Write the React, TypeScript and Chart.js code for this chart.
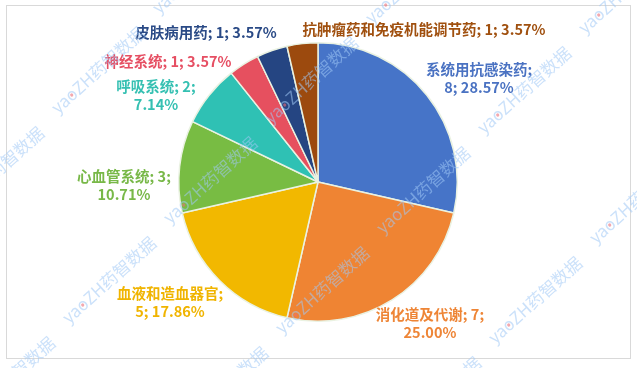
import React, { useEffect, useRef } from "react";
import { Chart, registerables } from "chart.js";

Chart.register(...registerables);

// ---- data ----
const categories = [
  "系统用抗感染药",
  "消化道及代谢",
  "血液和造血器官",
  "心血管系统",
  "呼吸系统",
  "神经系统",
  "皮肤病用药",
  "抗肿瘤药和免疫机能调节药",
];
const counts = [8, 7, 5, 3, 2, 1, 1, 1];

// ---- styling / layout ----
const sliceColors = ["#4674C8", "#EF8433", "#F2B800", "#78BC43", "#2FC1B4", "#E6505F", "#254582", "#9C4A0E"];
const labelColors = ["#4A72C2", "#EE8536", "#F0B400", "#78B848", "#35C0B2", "#E64F63", "#2A4A86", "#A0500F"];
// where each label's line break goes: after name, after value, or none
const labelBreaks = ["name", "value", "name", "value", "value", "none", "none", "none"];
// label centre offsets from pie centre (px)
const labelOffsets: [number, number][] = [
  [161, -104],
  [112, 141],
  [-148, 120],
  [-194, 3],
  [-162, -87],
  [-150, -121],
  [-112, -150],
  [106, -153],
];

const total = counts.reduce((a, b) => a + b, 0);

function labelLines(i: number): string[] {
  const pct = ((counts[i] / total) * 100).toFixed(2) + "%";
  const name = categories[i] + ";";
  const val = counts[i] + ";";
  const b = labelBreaks[i];
  if (b === "name") return [name, `${counts[i]}; ${pct}`];
  if (b === "value") return [`${name} ${val}`, pct];
  return [`${name} ${val} ${pct}`];
}

const framePlugin = {
  id: "frame",
  beforeDraw(chart: any) {
    const ctx = chart.ctx;
    ctx.save();
    ctx.fillStyle = "#ffffff";
    ctx.fillRect(0, 0, chart.width, chart.height);
    ctx.strokeStyle = "#D9D9D9";
    ctx.lineWidth = 1;
    ctx.strokeRect(6.5, 5.5, 624, 353);
    ctx.restore();
  },
};

const labelPlugin = {
  id: "sliceLabels",
  afterDatasetsDraw(chart: any) {
    const ctx = chart.ctx;
    const meta = chart.getDatasetMeta(0);
    ctx.save();
    ctx.font = 'bold 14.5px "Noto Sans CJK SC", "Noto Sans", sans-serif';
    ctx.textAlign = "center";
    ctx.textBaseline = "middle";
    meta.data.forEach((arc: any, i: number) => {
      const lines = labelLines(i);
      const [dx, dy] = labelOffsets[i];
      const cx = arc.x + dx;
      const cy = arc.y + dy;
      const lh = 18;
      ctx.fillStyle = labelColors[i];
      lines.forEach((ln, k) => {
        ctx.fillText(ln, cx, cy + (k - (lines.length - 1) / 2) * lh);
      });
    });
    ctx.restore();
  },
};

const watermarkPlugin = {
  id: "watermark",
  afterDraw(chart: any) {
    const ctx = chart.ctx;
    ctx.save();
    ctx.font = '17px "Noto Sans CJK SC", "Noto Sans", sans-serif';
    ctx.textAlign = "center";
    ctx.textBaseline = "middle";
    const ox = 98, oy = 70;
    for (let i = -3; i <= 4; i++) {
      for (let j = -4; j <= 4; j++) {
        const x = ox + i * 112 + j * 213;
        const y = oy + i * 110 + j * 10;
        if (x < -80 || x > chart.width + 80 || y < -80 || y > chart.height + 80) continue;
        ctx.save();
        ctx.translate(x, y);
        ctx.rotate((-42 * Math.PI) / 180);
        ctx.fillStyle = "rgba(160,200,245,0.55)";
        const text = "yaoZH药智数据";
        const w = ctx.measureText(text).width;
        ctx.fillText(text, 0, 0);
        const pre = ctx.measureText("ya").width;
        const o = ctx.measureText("o").width;
        ctx.fillStyle = "rgba(235,110,120,0.6)";
        ctx.beginPath();
        ctx.arc(-w / 2 + pre + o / 2, 1, 1.6, 0, Math.PI * 2);
        ctx.fill();
        ctx.restore();
      }
    }
    ctx.restore();
  },
};

export default function App() {
  const ref = useRef<HTMLCanvasElement | null>(null);
  useEffect(() => {
    document.body.style.margin = "0";
    if (!ref.current) return;
    const chart = new Chart(ref.current, {
      type: "pie",
      data: {
        labels: categories,
        datasets: [
          {
            data: counts,
            backgroundColor: sliceColors,
            borderColor: "#EAF2E2",
            borderWidth: 1.5,
          },
        ],
      },
      options: {
        animation: false,
        responsive: false,
        layout: { padding: { top: 42, bottom: 46, left: 100, right: 101 } },
        plugins: {
          legend: { display: false },
          tooltip: { enabled: false },
        },
      },
      plugins: [framePlugin, labelPlugin, watermarkPlugin],
    });
    return () => chart.destroy();
  }, []);
  return (
    <div style={{ width: 637, height: 368 }}>
      <canvas ref={ref} width={637} height={368} style={{ width: 637, height: 368, display: "block" }} />
    </div>
  );
}
